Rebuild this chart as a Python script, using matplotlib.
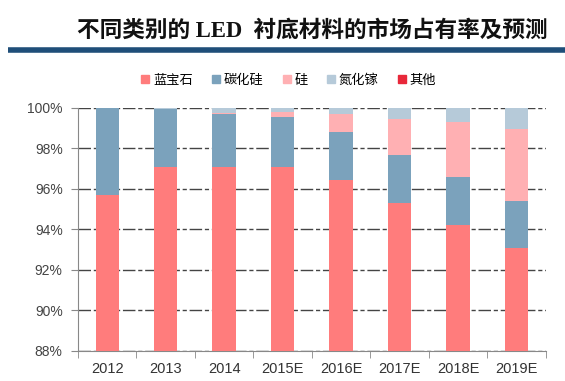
import numpy as np
import matplotlib.pyplot as plt
from matplotlib.lines import Line2D

plt.rcParams['font.family'] = ['Liberation Sans', 'Noto Sans CJK SC', 'DejaVu Sans']

years = ["2012", "2013", "2014", "2015E", "2016E", "2017E", "2018E", "2019E"]
series_names = ["蓝宝石", "碳化硅", "硅", "氮化镓", "其他"]
sapphire = [95.7, 97.1, 97.1, 97.1, 96.45, 95.3, 94.2, 93.1]
sic = [4.3, 2.85, 2.6, 2.47, 2.35, 2.38, 2.38, 2.32]
si = [0.0, 0.0, 0.05, 0.23, 0.9, 1.78, 2.7, 3.55]
gan = [0.0, 0.05, 0.25, 0.2, 0.3, 0.54, 0.72, 1.03]
other = [0.0, 0.0, 0.0, 0.0, 0.0, 0.0, 0.0, 0.0]
colors = ["#FF7C7C", "#7BA2BC", "#FFB0B3", "#B6CAD9", "#E8283A"]

fig = plt.figure(figsize=(5.65, 3.81), dpi=100)
ax = fig.add_axes([0.138, 0.079, 0.828, 0.638])

x = np.arange(len(years))
bottom = np.zeros(len(years))
for vals, c in zip([sapphire, sic, si, gan, other], colors):
    vals = np.array(vals)
    ax.bar(x, vals, 0.4, bottom=bottom, color=c, zorder=3)
    bottom += vals

ax.set_ylim(88, 100)
ax.set_xlim(-0.5, len(years) - 0.5)
ax.set_yticks(np.arange(88, 101, 2))
ax.set_yticklabels([f"{v}%" for v in range(88, 101, 2)])
ax.yaxis.grid(True, color="#444444", lw=1.0, dashes=[9, 2, 3, 2], zorder=0)

ax.set_xticks(x)
ax.set_xticklabels(years)
ax.set_xticks(np.arange(-0.5, len(years), 1), minor=True)
ax.tick_params(axis="x", which="major", length=0, pad=8, labelsize=10.5, labelcolor="#333333")
ax.tick_params(axis="x", which="minor", length=5, color="#888888")
ax.tick_params(axis="y", length=5, color="#888888", labelsize=10, labelcolor="#444444", pad=6)

for s in ["top", "right"]:
    ax.spines[s].set_visible(False)
for s in ["left", "bottom"]:
    ax.spines[s].set_color("#888888")

handles = [Line2D([], [], marker="s", ls="", color=c, markersize=6) for c in colors]
fig.legend(handles, series_names, loc="center", bbox_to_anchor=(0.51, 0.79), ncol=5,
           frameon=False, prop={"family": ["Noto Sans CJK SC"], "size": 9.5},
           handlelength=0.7, handletextpad=0.25, columnspacing=1.4)

fig.text(0.553, 0.92, "不同类别的 LED  衬底材料的市场占有率及预测", ha="center", va="center",
         fontsize=16.3, fontweight="bold", color="#111111",
         family=["Liberation Serif", "Noto Sans CJK SC"])
fig.add_artist(Line2D([0.014, 1.0], [0.87, 0.87], color="#1F4E79", lw=4, solid_capstyle="butt"))

fig.savefig("out.png", dpi=100)
